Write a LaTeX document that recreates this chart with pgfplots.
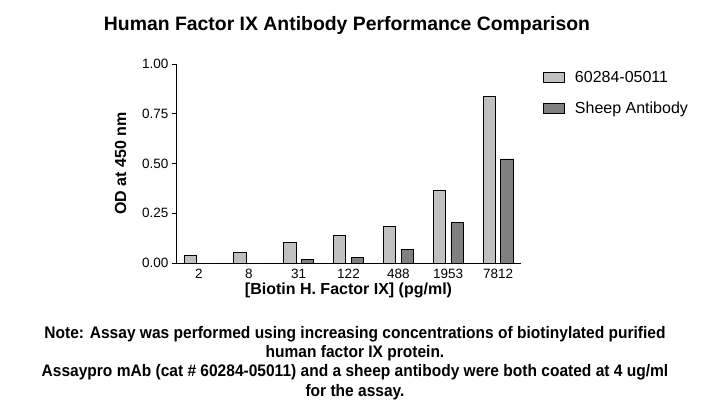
\documentclass[border=0pt]{standalone}
\usepackage{fontspec}
\setmainfont{Liberation Sans}
\newfontfamily\narrowfont[FakeStretch=0.93]{Liberation Sans}
\usepackage{pgfplots}
\pgfplotsset{compat=1.18}

\definecolor{barlight}{RGB}{192,192,192}
\definecolor{bardark}{RGB}{128,128,128}

\pgfplotstableread{
x  mab    sheep
0  0.037  0
1  0.053  0
2  0.104  0.017
3  0.137  0.027
4  0.182  0.067
5  0.366  0.202
6  0.839  0.523
}\datatable

\begin{document}
\begin{tikzpicture}[x=1pt,y=1pt]
\path[use as bounding box] (0,0) rectangle (710,416);

\node[font=\bfseries\fontsize{19.4}{22}\selectfont] at (347,391) {Human Factor IX Antibody Performance Comparison};

\begin{axis}[
    at={(176pt,153pt)}, anchor=south west,
    scale only axis, width=345pt, height=199pt,
    ybar=5.4pt, bar width=12.3pt,
    xmin=-0.46, xmax=6.46, ymin=0, ymax=1,
    axis lines=left, axis line style={-, line width=0.9pt},
    xtick={0,...,6},
    xticklabels={2,8,31,122,488,1953,7812},
    x tick style={draw=none},
    ytick={0,0.25,0.5,0.75,1},
    y tick style={line width=0.9pt, black},
    tick align=outside, major tick length=4pt,
    yticklabel style={/pgf/number format/fixed, /pgf/number format/fixed zerofill, /pgf/number format/precision=2},
    /pgf/number format/assume math mode=true,
    tick label style={font=\fontsize{13.5}{15}\selectfont},
    xticklabel style={yshift=1pt},
    xlabel={\bfseries [Biotin H. Factor IX] (pg/ml)},
    ylabel={\bfseries OD at 450 nm},
    label style={font=\fontsize{16}{18}\selectfont},
    xlabel style={yshift=3pt},
    ylabel style={yshift=9pt},
    legend cell align=left,
    legend style={draw=none, fill=none, at={(1.064,0.975)}, anchor=north west,
        font=\fontsize{16}{18}\selectfont, row sep=14pt, column sep=8pt, inner sep=0pt},
    legend image code/.code={\draw[#1,draw=black,line width=0.7pt] (0pt,-5pt) rectangle (21pt,5pt);},
]
\addplot[fill=barlight, draw=black, line width=0.7pt] table[x=x, y=mab] {\datatable};
\addplot[fill=bardark, draw=black, line width=0.7pt] table[x=x, y=sheep] {\datatable};
\legend{60284-05011, Sheep Antibody}
\end{axis}

\node[font=\narrowfont\bfseries\fontsize{16.7}{19.3}\selectfont, align=center] at (355,53)
  {Note: Assay was performed using increasing concentrations of biotinylated purified\\
   human factor IX protein.\\
   Assaypro mAb (cat \# 60284-05011) and a sheep antibody were both coated at 4 ug/ml\\
   for the assay.};
\end{tikzpicture}
\end{document}
